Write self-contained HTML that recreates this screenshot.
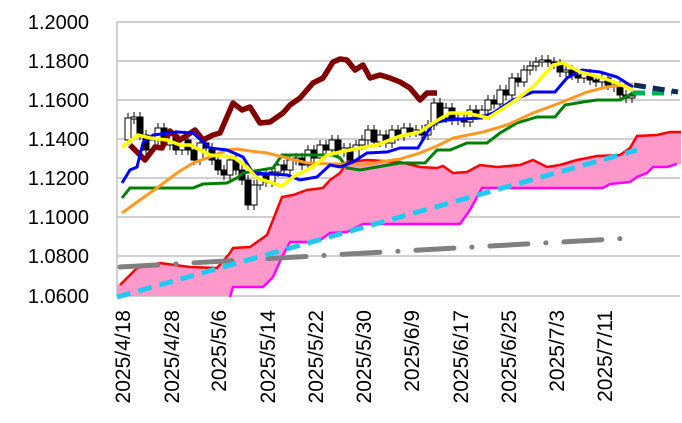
<!DOCTYPE html>
<html><head><meta charset="utf-8"><style>
html,body{margin:0;padding:0;background:#fff;}
svg{display:block;font-family:"Liberation Sans",sans-serif;}
</style></head><body>
<svg id="s" width="682" height="423" viewBox="0 0 682 423" xmlns="http://www.w3.org/2000/svg">
<g stroke="#c0c0c0" stroke-width="1.5">
<line x1="117" y1="22" x2="680" y2="22"/><line x1="117" y1="61" x2="680" y2="61"/>
<line x1="117" y1="100" x2="680" y2="100"/><line x1="117" y1="139" x2="680" y2="139"/>
<line x1="117" y1="178" x2="680" y2="178"/><line x1="117" y1="217" x2="680" y2="217"/>
<line x1="117" y1="256" x2="680" y2="256"/><line x1="117" y1="296" x2="680" y2="296"/>
<line x1="117" y1="22" x2="117" y2="296"/>
</g>
<g font-size="20" fill="#000" text-anchor="end">
<text x="89" y="29">1.2000</text><text x="89" y="68">1.1800</text><text x="89" y="107">1.1600</text>
<text x="89" y="146">1.1400</text><text x="89" y="185">1.1200</text><text x="89" y="224">1.1000</text>
<text x="89" y="263">1.0800</text><text x="89" y="303">1.0600</text>
</g>
<g font-size="21" fill="#000" text-anchor="end">
<text transform="translate(130,310) rotate(-90)">2025/4/18</text>
<text transform="translate(179,310) rotate(-90)">2025/4/28</text>
<text transform="translate(226,310) rotate(-90)">2025/5/6</text>
<text transform="translate(275,310) rotate(-90)">2025/5/14</text>
<text transform="translate(323,310) rotate(-90)">2025/5/22</text>
<text transform="translate(371,310) rotate(-90)">2025/5/30</text>
<text transform="translate(419,310) rotate(-90)">2025/6/9</text>
<text transform="translate(468,310) rotate(-90)">2025/6/17</text>
<text transform="translate(516,310) rotate(-90)">2025/6/25</text>
<text transform="translate(564,310) rotate(-90)">2025/7/3</text>
<text transform="translate(612,310) rotate(-90)">2025/7/11</text>
</g>
<polygon fill="#ff99cc" points="117,283 120,285 137,268 160,263 190,267 217,268 230,253 233,248 250,247 267,235 273,220 282,197 293,195 307,190 323,188 330,180 340,173 347,162 367,160 400,162 420,167 437,168 443,166 453,173 467,172 480,165 497,167 520,165 533,160 547,167 560,165 577,160 597,156 620,155 630,148 637,136 657,135 670,132 681,132 681,164 677,164 667,167 653,167 647,173 637,177 630,182 610,184 603,188 482,188 470,210 460,224 400,224 363,224 347,232 330,233 320,240 307,242 290,242 282,257 273,277 263,287 233,287 230,296 117,296"/>
<polyline fill="none" stroke="#ff0000" stroke-width="2.5" points="120,285 137,268 160,263 190,267 217,268 230,253 233,248 250,247 267,235 273,220 282,197 293,195 307,190 323,188 330,180 340,173 347,162 367,160 400,162 420,167 437,168 443,166 453,173 467,172 480,165 497,167 520,165 533,160 547,167 560,165 577,160 597,156 620,155 630,148 637,136 657,135 670,132 681,132"/>
<polyline fill="none" stroke="#ff00ff" stroke-width="2.5" points="230,297 233,287 263,287 273,277 282,257 290,242 307,242 320,240 330,233 347,232 363,224 400,224 460,224 470,210 482,188 603,188 610,184 630,182 637,177 647,173 653,167 667,167 677,164"/>
<line x1="120" y1="267" x2="632" y2="238" stroke="#808080" stroke-width="5" stroke-linecap="round" stroke-dasharray="38,18,0.1,18"/>
<line x1="117" y1="297" x2="637" y2="150" stroke="#22c8f0" stroke-width="5" stroke-dasharray="14,8"/>
<g id="candles"></g>
<polyline fill="none" stroke="#800000" stroke-width="5.5" stroke-linejoin="round" points="130,145 145,160 155,147 162,148 170,131 180,140 195,130 203,140 213,135 220,133 233,103 242,110 250,107 260,123 270,122 283,113 290,105 300,98 313,83 323,78 333,62 340,59 347,60 355,70 363,65 370,78 380,75 390,78 400,82 410,88 420,100 427,93 437,93"/>
<polyline fill="none" stroke="#008000" stroke-width="3" points="122,198 130,188 193,188 203,184 227,183 237,178 243,173 273,168 282,155 333,155 340,158 347,168 360,170 377,167 400,163 425,163 437,150 450,150 467,143 487,143 500,133 517,123 537,117 555,117 565,105 583,102 597,100 620,100 633,93"/>
<line x1="633" y1="93" x2="672" y2="93" stroke="#00b050" stroke-width="5" stroke-dasharray="12,7"/>
<polyline fill="none" stroke="#ff9922" stroke-width="3" points="122,213 140,200 157,188 177,173 193,163 210,157 227,150 237,149 250,151 267,153 287,158 307,163 333,164 367,164 400,159 420,153 437,146 453,138 483,132 507,125 533,113 560,103 587,92 607,87 633,84"/>
<polyline fill="none" stroke="#0000ff" stroke-width="3" points="122,183 130,170 137,167 143,143 153,135 177,132 193,133 210,148 227,150 243,157 253,173 287,175 300,180 317,177 330,165 340,167 353,162 367,153 387,152 400,148 418,148 433,123 447,120 480,118 493,113 513,100 533,92 555,92 567,78 582,70 600,72 617,77 633,87"/>
<polyline fill="none" stroke="#ffff00" stroke-width="3.5" points="122,147 138,135 150,138 167,140 180,145 190,145 210,155 233,157 247,167 257,178 282,186 293,177 313,167 327,155 340,152 360,148 377,145 400,136 420,132 433,123 450,113 467,113 488,118 513,102 533,87 553,65 563,63 580,72 600,77 617,83 633,90"/>
<line x1="634" y1="85" x2="678" y2="92" stroke="#0e2a5a" stroke-width="5" stroke-dasharray="12,7"/>
</svg>
<script>
var p=[[122,140],[128,118],[134,117],[140,135],[146,150],[152,140],[158,128],[164,145],[170,135],[176,150],[182,140],[188,150],[194,160],[200,143],[206,148],[212,160],[218,170],[224,175],[230,160],[236,170],[242,180],[248,205],[254,185],[260,175],[266,182],[272,172],[278,165],[284,170],[290,160],[296,158],[302,165],[308,150],[314,158],[320,145],[326,150],[332,140],[338,152],[344,148],[350,160],[356,145],[362,140],[368,130],[374,142],[380,135],[386,143],[392,130],[398,136],[404,128],[410,132],[416,130],[422,135],[428,125],[434,103],[440,118],[446,108],[452,120],[458,118],[464,122],[470,110],[476,115],[482,110],[488,100],[494,104],[500,90],[506,95],[512,78],[518,82],[524,70],[530,66],[536,62],[542,60],[548,62],[554,64],[560,72],[566,70],[572,75],[578,78],[584,74],[590,80],[596,82],[602,78],[608,85],[614,86],[620,95],[626,98],[632,96]];
var g=document.getElementById('candles'),h='';
for(var i=1;i<p.length;i++){var x=p[i][0],o=p[i-1][1],c=p[i][1],t=Math.min(o,c),b=Math.max(o,c);if(b-t<2)b=t+2;
h+='<line x1="'+x+'" y1="'+(t-5)+'" x2="'+x+'" y2="'+(b+5)+'" stroke="#000" stroke-width="1"/>';
h+='<rect x="'+(x-3)+'" y="'+t+'" width="6" height="'+(b-t)+'" fill="'+(c<o?'#fff':'#000')+'" stroke="#000" stroke-width="1"/>';}
g.innerHTML=h;
</script>
</body></html>
